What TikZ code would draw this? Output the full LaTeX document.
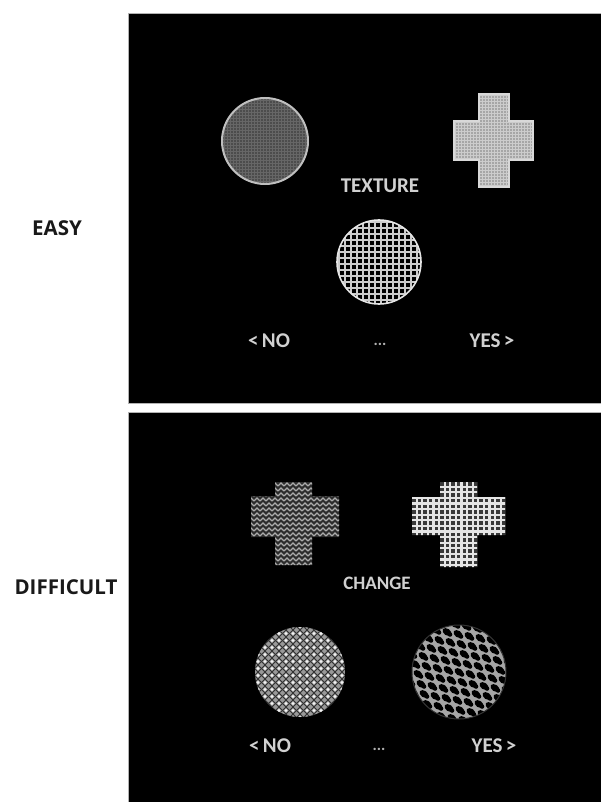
\documentclass[tikz,border=0pt]{standalone}
\usepackage{fontspec}
\setmainfont{Open Sans}
\newfontfamily\panelfont{Carlito}
\begin{document}
\begin{tikzpicture}[x=1pt,y=-1pt,
  sidelabel/.style={font=\fontsize{20.5}{24}\selectfont\bfseries, text=black!90, inner sep=0},
  panellabel/.style={font=\panelfont\bfseries\fontsize{21}{24}\selectfont, text=white!82!black, inner sep=0},
  dotslabel/.style={font=\panelfont\bfseries\fontsize{16}{18}\selectfont, text=white!70!black, inner sep=0},
  panel/.style={fill=black, draw=gray!60, line width=0.6pt}]
\useasboundingbox (0,0) rectangle (601,802);
\fill[white] (0,0) rectangle (601,802);
% panels
\path[panel] (128,13) rectangle (601,403);
\path[panel] (128,412) rectangle (601,802);

% ---------- EASY panel ----------
% left circle: dark gray fine grid
\begin{scope}
  \clip (265,141) circle[radius=43];
  \fill[gray!60!black] (220,96) rectangle (310,186);
  \foreach \i in {0,...,30} {
    \draw[gray!80!black, line width=0.5pt] (221+3*\i,96) -- ++(0,92);
    \draw[gray!80!black, line width=0.5pt] (220,97+3*\i) -- ++(92,0);
  }
\end{scope}
\draw[gray!50!white, line width=2pt] (265,141) circle[radius=43];

% right cross: light gray fine grid
\begin{scope}
  \clip (479,94) -- (509,94) -- (509,121) -- (533,121) -- (533,160) -- (509,160)
        -- (509,187) -- (479,187) -- (479,160) -- (454,160) -- (454,121) -- (479,121) -- cycle;
  \fill[gray!70!white] (450,90) rectangle (540,190);
  \foreach \i in {0,...,32} {
    \draw[gray!40!white, line width=0.6pt] (452+3*\i,90) -- ++(0,100);
    \draw[gray!40!white, line width=0.6pt] (450,92+3*\i) -- ++(90,0);
  }
\end{scope}
\draw[gray!30!white, line width=1.2pt] (479,94) -- (509,94) -- (509,121) -- (533,121) -- (533,160) -- (509,160)
        -- (509,187) -- (479,187) -- (479,160) -- (454,160) -- (454,121) -- (479,121) -- cycle;

\node[panellabel] (texture) at (380,186) {TEXTURE};

% bottom circle: black with white grid
\begin{scope}
  \clip (379,262) circle[radius=42];
  \foreach \i in {0,...,15} {
    \draw[white!80!black, line width=1.2pt] (333+6*\i,215) -- ++(0,95);
    \draw[white!80!black, line width=1.2pt] (330,216+6*\i) -- ++(95,0);
  }
\end{scope}
\draw[white!90!black, line width=1.6pt] (379,262) circle[radius=42];

\node[panellabel] (no1) at (269,341) {<\,NO};
\node[dotslabel] (dots1) at (380,344) {...};
\node[panellabel] (yes1) at (492,341) {YES\,>};

\node[sidelabel] (easy) at (57,228) {EASY};

% ---------- DIFFICULT panel ----------
% left cross: herringbone gray
\begin{scope}
  \clip (275,482) -- (312,482) -- (312,496) -- (339,496) -- (339,537) -- (312,537)
        -- (312,565) -- (275,565) -- (275,537) -- (251,537) -- (251,496) -- (275,496) -- cycle;
  \fill[gray!35!black] (248,478) rectangle (342,570);
  \foreach \r in {0,...,18} {
    \draw[gray!65!white, line width=1.1pt]
      \foreach \k in {0,...,16} { (248+6*\k,481+5*\r) -- ++(3,-3) -- ++(3,3) };
  }
\end{scope}

% right cross: white grid on dark
\begin{scope}
  \clip (440,482) -- (477,482) -- (477,497) -- (505,497) -- (505,535) -- (477,535)
        -- (477,567) -- (440,567) -- (440,535) -- (412,535) -- (412,497) -- (440,497) -- cycle;
  \fill[gray!45!black] (408,478) rectangle (510,572);
  \foreach \i in {0,...,17} {
    \draw[white!90!black, line width=2.2pt] (411+5.6*\i,478) -- ++(0,94);
    \draw[white!90!black, line width=2.2pt] (408,481+5.6*\i) -- ++(102,0);
  }
\end{scope}

\node[panellabel, font=\panelfont\bfseries\fontsize{19}{22}\selectfont] (change) at (377,583) {CHANGE};

% bottom-left circle: light scale pattern
\begin{scope}
  \clip (300,672) circle[radius=45];
  \fill[gray!80!white] (250,622) rectangle (350,722);
  \foreach \i in {-14,...,14} {
    \draw[gray!40!black, line width=1pt] (300+7*\i-60,672-60) -- ++(120,120);
    \draw[gray!40!black, line width=1pt] (300+7*\i+60,672-60) -- ++(-120,120);
  }
  \foreach \i in {-7,...,7} {
    \foreach \j in {-7,...,7} {
      \fill[white!90!gray] (300+7*\i,672+7*\j+3.5) circle[radius=1.6];
    }
  }
\end{scope}

% bottom-right circle: gray net with dark holes
\begin{scope}
  \clip (459,672) circle[radius=47];
  \fill[gray!70!white] (410,622) rectangle (510,722);
  \foreach \i in {-6,...,6} {
    \foreach \j in {-6,...,6} {
      \fill[black, rotate around={-35:(459+11*\i+3*\j,672+10*\j+2*\i)}]
        (459+11*\i+3*\j,672+10*\j+2*\i) ellipse[x radius=5, y radius=3.3];
      \fill[black] (459+11*\i+3*\j+3,672+10*\j+2*\i+2.5) circle[radius=2.3];
    }
  }
\end{scope}
\draw[gray!40!black, line width=1pt] (459,672) circle[radius=47];

\node[panellabel] (no2) at (270,746) {<\,NO};
\node[dotslabel] (dots2) at (379,749) {...};
\node[panellabel] (yes2) at (494,746) {YES\,>};

\node[sidelabel] (difficult) at (66,587) {DIFFICULT};
\end{tikzpicture}
\end{document}
